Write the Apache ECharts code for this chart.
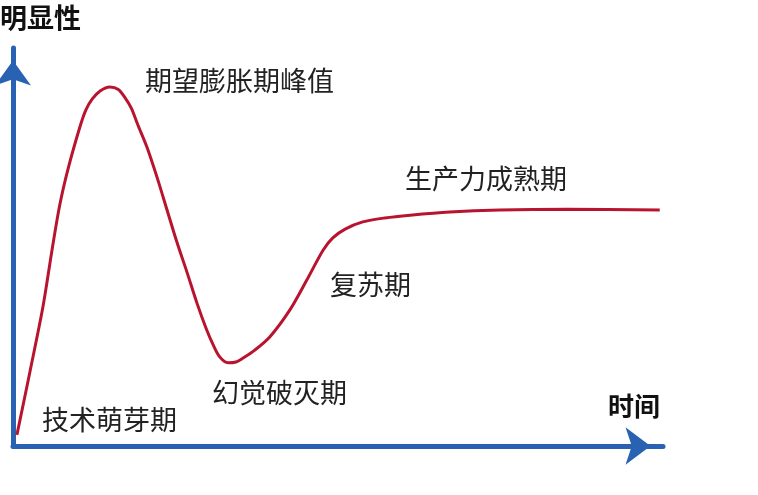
<!DOCTYPE html>
<html>
<head>
<meta charset="utf-8">
<style>
  html, body { margin: 0; padding: 0; background: #fff; }
  #chart { width: 758px; height: 495px; }
</style>
<script src="https://cdn.jsdelivr.net/npm/echarts@6/dist/echarts.min.js"></script>
</head>
<body>
<div id="chart"></div>
<script>
// 时间 (x) 与 明显性 (y)，坐标单位 0-100
var timeVals = [0.6, 2.6, 4.6, 6.0, 7.2, 8.5, 10.3, 11.2, 12.2, 13.4, 14.9, 16.2, 17.2, 18.2, 19.2, 20.6, 22.2, 23.7, 25.2, 26.8, 28.3, 29.7, 30.8, 31.8, 33.1, 34.3, 35.4, 37.2, 39.5, 42.6, 45.2, 47.7, 49.2, 51.1, 53.8, 57.2, 61.1, 67.2, 74.9, 85.2, 99.5];
var visVals  = [2.8, 18.6, 34.9, 49.2, 60.6, 69.8, 80.2, 84.4, 87.2, 89.2, 90.2, 89.6, 87.6, 84.9, 80.7, 75.1, 67.3, 59.3, 51.3, 43.5, 35.9, 29.6, 25.4, 22.4, 20.9, 21.1, 22.1, 24.1, 27.4, 34.2, 41.7, 49.2, 52.3, 54.5, 56.3, 57.3, 58.0, 58.8, 59.3, 59.5, 59.3];
var phaseNames = ['技术萌芽期', '期望膨胀期峰值', '幻觉破灭期', '复苏期', '生产力成熟期'];
var axisNames = ['时间', '明显性'];

var font = '"Noto Sans CJK SC", sans-serif';
var blue = '#2a62b3';

var chart = echarts.init(document.getElementById('chart'));

var curve = timeVals.map(function (t, i) { return [t, visVals[i]]; });

// 标签位置（像素）
var phasePos = [[42, 420], [145, 81], [212, 393], [330, 285], [405, 179]];

var texts = phaseNames.map(function (name, i) {
    return {
        type: 'text',
        x: phasePos[i][0],
        y: phasePos[i][1],
        style: { text: name, font: '27px ' + font, fill: '#222', verticalAlign: 'middle' }
    };
});
texts.push({
    type: 'text', x: 608, y: 406,
    style: { text: axisNames[0], font: 'bold 26px ' + font, fill: '#111', verticalAlign: 'middle' }
});
texts.push({
    type: 'text', x: 0, y: 18,
    style: { text: axisNames[1], font: 'bold 27px ' + font, fill: '#111', verticalAlign: 'middle' }
});

chart.setOption({
    backgroundColor: '#fff',
    animation: false,
    grid: { left: 13, right: 95, top: 48, bottom: 49 },
    xAxis: {
        type: 'value', min: 0, max: 100,
        axisLine: {
            show: true, symbol: ['none', 'arrow'], symbolSize: [28, 25], symbolOffset: [0, -12.5],
            lineStyle: { color: blue, width: 5 }
        },
        axisTick: { show: false }, axisLabel: { show: false }, splitLine: { show: false }
    },
    yAxis: {
        type: 'value', min: 0, max: 100,
        axisLine: {
            show: true, symbol: ['none', 'arrow'], symbolSize: [27, 25], symbolOffset: [0, -12.5],
            lineStyle: { color: blue, width: 5 }
        },
        axisTick: { show: false }, axisLabel: { show: false }, splitLine: { show: false }
    },
    series: [{
        type: 'line',
        data: curve,
        smooth: 0.3,
        showSymbol: false,
        lineStyle: { color: '#b8142f', width: 3 },
        z: 1
    }],
    graphic: texts
});
</script>
</body>
</html>
